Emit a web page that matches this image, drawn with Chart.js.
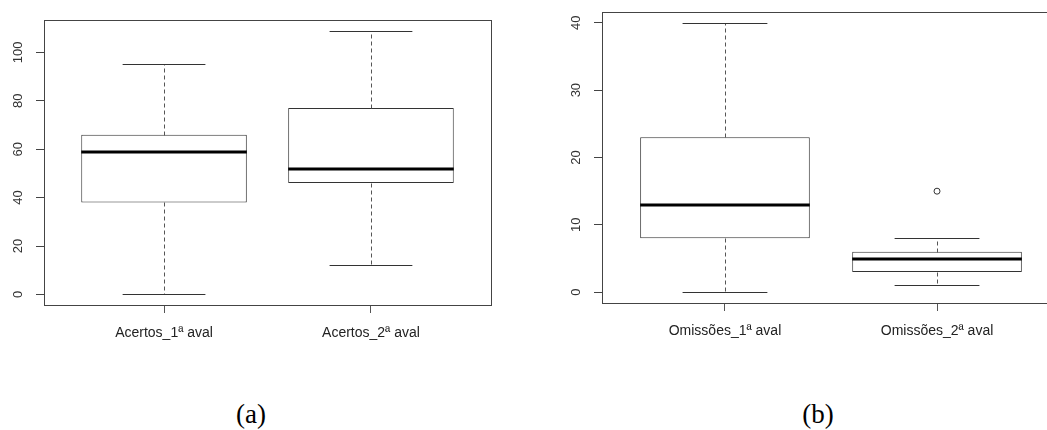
<!DOCTYPE html>
<html>
<head>
<meta charset="utf-8">
<script src="https://cdn.jsdelivr.net/npm/chart.js@4.4.0/dist/chart.umd.min.js"></script>
<style>
  html, body { margin: 0; padding: 0; background: #fff; width: 1047px; height: 430px; overflow: hidden; position: relative; }
  canvas { position: absolute; top: 0; }
  #chartA { left: 0; }
  #chartB { left: 530px; }
  .panel-tag {
    position: absolute; top: 414px;
    font-family: "Liberation Serif", "Times New Roman", serif;
    font-size: 27px; color: #000;
    transform: translate(-50%, -50%);
    white-space: nowrap;
  }
</style>
</head>
<body>
<canvas id="chartA" width="520" height="345"></canvas>
<canvas id="chartB" width="545" height="345"></canvas>
<div class="panel-tag" style="left:251px">(a)</div>
<div class="panel-tag" style="left:818px">(b)</div>

<script>
// Panel (a): correct answers, first and second evaluation
const categoriesA = ['Acertos_1ª aval', 'Acertos_2ª aval'];
const whiskerLowA  = [0, 12];
const lowerHingeA  = [38, 46];
const medianA      = [59, 52];
const upperHingeA  = [66, 77];
const whiskerHighA = [95, 109];
const outliersA    = [[], []];
const yTicksA      = [0, 20, 40, 60, 80, 100];

// Panel (b): omissions, first and second evaluation
const categoriesB = ['Omissões_1ª aval', 'Omissões_2ª aval'];
const whiskerLowB  = [0, 1];
const lowerHingeB  = [8, 3];
const medianB      = [13, 5];
const upperHingeB  = [23, 6];
const whiskerHighB = [40, 8];
const outliersB    = [[], [15]];
const yTicksB      = [0, 10, 20, 30, 40];

const FONT = '"Liberation Sans", Arial, sans-serif';

// Whiskers, staples, medians and the frame, drawn through the chart's scales
function boxExtras(s) {
  return {
    id: 'boxExtras',
    afterDatasetsDraw(chart) {
      const { ctx, scales: { x, y } } = chart;
      const seg = (x1, y1, x2, y2) => { ctx.beginPath(); ctx.moveTo(x1, y1); ctx.lineTo(x2, y2); ctx.stroke(); };
      ctx.save();
      s.categories.forEach((c, i) => {
        const pos = i + 1;
        const cx = Math.round(x.getPixelForValue(pos)) + 0.5;
        const capL = x.getPixelForValue(pos - 0.2), capR = x.getPixelForValue(pos + 0.2);
        const boxL = x.getPixelForValue(pos - 0.4), boxR = x.getPixelForValue(pos + 0.4);
        const py = v => Math.round(y.getPixelForValue(v)) + 0.5;

        ctx.lineWidth = 1;
        ctx.strokeStyle = '#555';
        ctx.setLineDash([4, 3]);
        seg(cx, py(s.upper[i]), cx, py(s.high[i]));
        seg(cx, py(s.lower[i]), cx, py(s.low[i]));
        ctx.setLineDash([]);

        ctx.strokeStyle = '#333';
        seg(capL, py(s.high[i]), capR, py(s.high[i]));
        seg(capL, py(s.low[i]), capR, py(s.low[i]));

        ctx.lineWidth = 3;
        ctx.strokeStyle = '#000';
        const my = Math.round(y.getPixelForValue(s.median[i]));
        seg(boxL, my, boxR, my);
      });
      ctx.restore();
    },
    afterDraw(chart) {
      const { ctx, chartArea: a, scales: { y } } = chart;
      ctx.save();
      ctx.strokeStyle = '#444';
      ctx.lineWidth = 1;
      ctx.strokeRect(Math.round(a.left) + 0.5, Math.round(a.top) + 0.5,
                     Math.round(a.right - a.left), Math.round(a.bottom - a.top));
      // rotated y tick labels
      ctx.fillStyle = '#333';
      ctx.font = '13px ' + FONT;
      ctx.textAlign = 'center';
      ctx.textBaseline = 'middle';
      s.yTicks.forEach(v => {
        ctx.save();
        ctx.translate(a.left - 26, y.getPixelForValue(v));
        ctx.rotate(-Math.PI / 2);
        ctx.fillText(String(v), 0, 0);
        ctx.restore();
      });
      ctx.restore();
    }
  };
}

function makeBoxChart(canvas, s) {
  const n = s.categories.length;
  const allVals = s.low.concat(s.high, ...s.outliers);
  const dMin = Math.min(...allVals), dMax = Math.max(...allVals);
  const ext = (dMax - dMin) * 0.04;
  const outlierPts = [];
  s.outliers.forEach((arr, i) => arr.forEach(v => outlierPts.push({ x: i + 1, y: v })));

  return new Chart(canvas, {
    data: {
      datasets: [
        {
          type: 'bar',
          data: s.categories.map((c, i) => ({ x: i + 1, y: [s.lower[i], s.upper[i]] })),
          backgroundColor: '#fff',
          borderColor: '#333',
          borderWidth: 1,
          borderSkipped: false,
          barPercentage: 0.8,
          categoryPercentage: 1.0
        },
        {
          type: 'scatter',
          data: outlierPts,
          pointStyle: 'circle',
          pointRadius: 3,
          pointBackgroundColor: 'rgba(0,0,0,0)',
          pointBorderColor: '#333',
          pointBorderWidth: 1
        }
      ]
    },
    options: {
      responsive: false,
      devicePixelRatio: 1,
      animation: false,
      layout: { padding: s.padding },
      plugins: { legend: { display: false }, tooltip: { enabled: false } },
      scales: {
        x: {
          type: 'linear',
          min: 0.5 - 0.04 * n,
          max: n + 0.5 + 0.04 * n,
          offset: false,
          afterBuildTicks: sc => { sc.ticks = s.categories.map((c, i) => ({ value: i + 1 })); },
          afterFit: sc => { sc.height = s.xAxisHeight; },
          grid: { display: true, offset: false, drawOnChartArea: false, drawTicks: true, tickLength: 8, color: '#555', lineWidth: 1 },
          border: { display: false },
          ticks: {
            autoSkip: false, maxRotation: 0, minRotation: 0, padding: 12,
            color: '#222', font: { family: FONT, size: 14 },
            callback: v => s.categories[Math.round(v) - 1]
          }
        },
        y: {
          type: 'linear',
          min: dMin - ext,
          max: dMax + ext,
          afterBuildTicks: sc => { sc.ticks = s.yTicks.map(v => ({ value: v })); },
          afterFit: sc => { sc.width = s.yAxisWidth; },
          grid: { display: true, offset: false, drawOnChartArea: false, drawTicks: true, tickLength: 8, color: '#444', lineWidth: 1 },
          border: { display: false },
          ticks: { display: false }
        }
      }
    },
    plugins: [boxExtras(s)]
  });
}

makeBoxChart(document.getElementById('chartA'), {
  categories: categoriesA, low: whiskerLowA, lower: lowerHingeA, median: medianA,
  upper: upperHingeA, high: whiskerHighA, outliers: outliersA, yTicks: yTicksA,
  padding: { left: 0, right: 29, top: 20, bottom: 0 }, yAxisWidth: 44, xAxisHeight: 40
});

makeBoxChart(document.getElementById('chartB'), {
  categories: categoriesB, low: whiskerLowB, lower: lowerHingeB, median: medianB,
  upper: upperHingeB, high: whiskerHighB, outliers: outliersB, yTicks: yTicksB,
  padding: { left: 0, right: 15, top: 12, bottom: 0 }, yAxisWidth: 72, xAxisHeight: 42
});
</script>
</body>
</html>
